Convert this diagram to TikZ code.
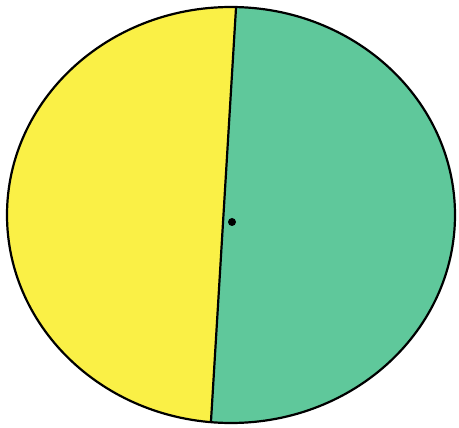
\documentclass[tikz,border=0pt]{standalone}
\begin{document}
\begin{tikzpicture}[x=1pt,y=-1pt]
\definecolor{hyellow}{RGB}{250,240,70}
\definecolor{hgreen}{RGB}{95,200,155}
\useasboundingbox (0,0) rectangle (459,428);
\fill[white] (0,0) rectangle (459,428);
\coordinate (c) at (231,215);
\coordinate (top) at (236,8);
\coordinate (bot) at (211,421);
\begin{scope}
\clip (c) ellipse [x radius=224, y radius=208];
\fill[hyellow] (-10,-10) -- (237,-10) -- (236,8) -- (211,421) -- (210,440) -- (-10,440) -- cycle;
\fill[hgreen] (470,-10) -- (237,-10) -- (236,8) -- (211,421) -- (210,440) -- (470,440) -- cycle;
\end{scope}
\draw[line width=2.2pt] (c) ellipse [x radius=224, y radius=208];
\draw[line width=2.2pt] (top) -- (bot);
\fill (232,222) circle (4);
\end{tikzpicture}
\end{document}
